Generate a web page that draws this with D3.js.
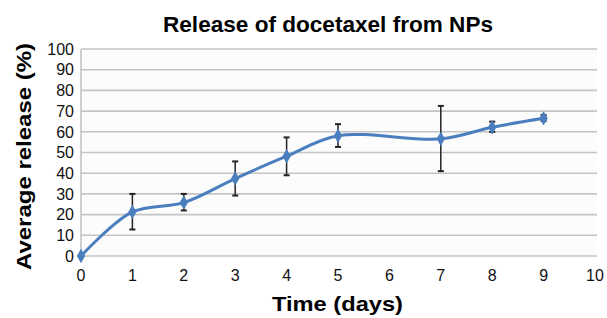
<!DOCTYPE html>
<html>
<head>
<meta charset="utf-8">
<script src="https://cdn.jsdelivr.net/npm/d3@7"></script>
<style>
  body { margin: 0; background: #fff; }
  svg { display: block; font-family: "Liberation Sans", Arial, sans-serif; }
</style>
</head>
<body>
<svg id="chart" width="607" height="318"></svg>
<script>
// Release data (days vs average release %)
const days = [0, 1, 2, 3, 4, 5, 7, 8, 9];
const release = [0, 21.3, 25.8, 37.4, 48.2, 58.1, 56.6, 62.2, 66.5];
const errLow = [0, 12.8, 22, 29.2, 39, 52.7, 41, 59.9, 65.2];
const errHigh = [0, 30, 30, 45.7, 57.3, 63.7, 72.5, 64.9, 68.1];
const xTicks = [0, 1, 2, 3, 4, 5, 6, 7, 8, 9, 10];
const yTicks = [0, 10, 20, 30, 40, 50, 60, 70, 80, 90, 100];

const svg = d3.select('#chart');

const x = d3.scaleLinear().domain([0, 10]).range([81, 595]);
const y = d3.scaleLinear().domain([0, 100]).range([256, 49]);

// plot background
svg.append('rect')
  .attr('x', x(0)).attr('y', y(100))
  .attr('width', 597 - x(0)).attr('height', y(0) - y(100))
  .attr('fill', '#fcfcfc');

// horizontal gridlines
svg.append('g').selectAll('line').data(yTicks).join('line')
  .attr('x1', x(0)).attr('x2', 597)
  .attr('y1', d => y(d)).attr('y2', d => y(d))
  .attr('stroke', '#c4c4c4').attr('stroke-width', 1.6);

// left axis line
svg.append('line')
  .attr('x1', x(0)).attr('x2', x(0))
  .attr('y1', y(100)).attr('y2', y(0))
  .attr('stroke', '#c4c4c4').attr('stroke-width', 1.6);

// y tick labels
svg.append('g').selectAll('text').data(yTicks).join('text')
  .attr('x', 74).attr('y', d => y(d))
  .attr('dy', '0.36em').attr('text-anchor', 'end')
  .attr('font-size', 16).attr('fill', '#111')
  .text(d => d);

// x tick labels
svg.append('g').selectAll('text').data(xTicks).join('text')
  .attr('x', d => x(d)).attr('y', 281)
  .attr('text-anchor', 'middle')
  .attr('font-size', 16).attr('fill', '#111')
  .text(d => d);

const pts = days.map((d, i) => ({ d, v: release[i], lo: errLow[i], hi: errHigh[i] }));

// smoothed line
const line = d3.line().x(p => x(p.d)).y(p => y(p.v)).curve(d3.curveCatmullRom.alpha(0.5));
svg.append('path').datum(pts)
  .attr('d', line)
  .attr('fill', 'none')
  .attr('stroke', '#4a7ebf')
  .attr('stroke-width', 3);

// error bars
const eb = svg.append('g').attr('stroke', '#222').attr('stroke-width', 1.5);
pts.filter(p => p.hi > p.lo).forEach(p => {
  eb.append('line').attr('x1', x(p.d)).attr('x2', x(p.d)).attr('y1', y(p.lo)).attr('y2', y(p.hi));
  eb.append('line').attr('x1', x(p.d) - 3).attr('x2', x(p.d) + 3).attr('y1', y(p.lo)).attr('y2', y(p.lo)).attr('stroke-width', 2);
  eb.append('line').attr('x1', x(p.d) - 3).attr('x2', x(p.d) + 3).attr('y1', y(p.hi)).attr('y2', y(p.hi)).attr('stroke-width', 2);
});

// diamond markers
const diamond = d3.symbol().type(d3.symbolDiamond).size(60);
svg.append('g').selectAll('path').data(pts).join('path')
  .attr('transform', p => `translate(${x(p.d)},${y(p.v)})`)
  .attr('d', diamond)
  .attr('fill', '#4a7ebf');

// title and axis labels
svg.append('text')
  .attr('x', 328).attr('y', 31.5)
  .attr('text-anchor', 'middle')
  .attr('font-size', 21.5).attr('font-weight', 'bold')
  .attr('textLength', 330).attr('lengthAdjust', 'spacingAndGlyphs')
  .text('Release of docetaxel from NPs');

svg.append('text')
  .attr('x', 337.5).attr('y', 311)
  .attr('text-anchor', 'middle')
  .attr('font-size', 20.5).attr('font-weight', 'bold')
  .attr('textLength', 131).attr('lengthAdjust', 'spacingAndGlyphs')
  .text('Time (days)');

svg.append('text')
  .attr('transform', 'translate(30.5,156.5) rotate(-90)')
  .attr('text-anchor', 'middle')
  .attr('font-size', 21).attr('font-weight', 'bold')
  .attr('textLength', 227).attr('lengthAdjust', 'spacingAndGlyphs')
  .text('Average release (%)');
</script>
</body>
</html>
